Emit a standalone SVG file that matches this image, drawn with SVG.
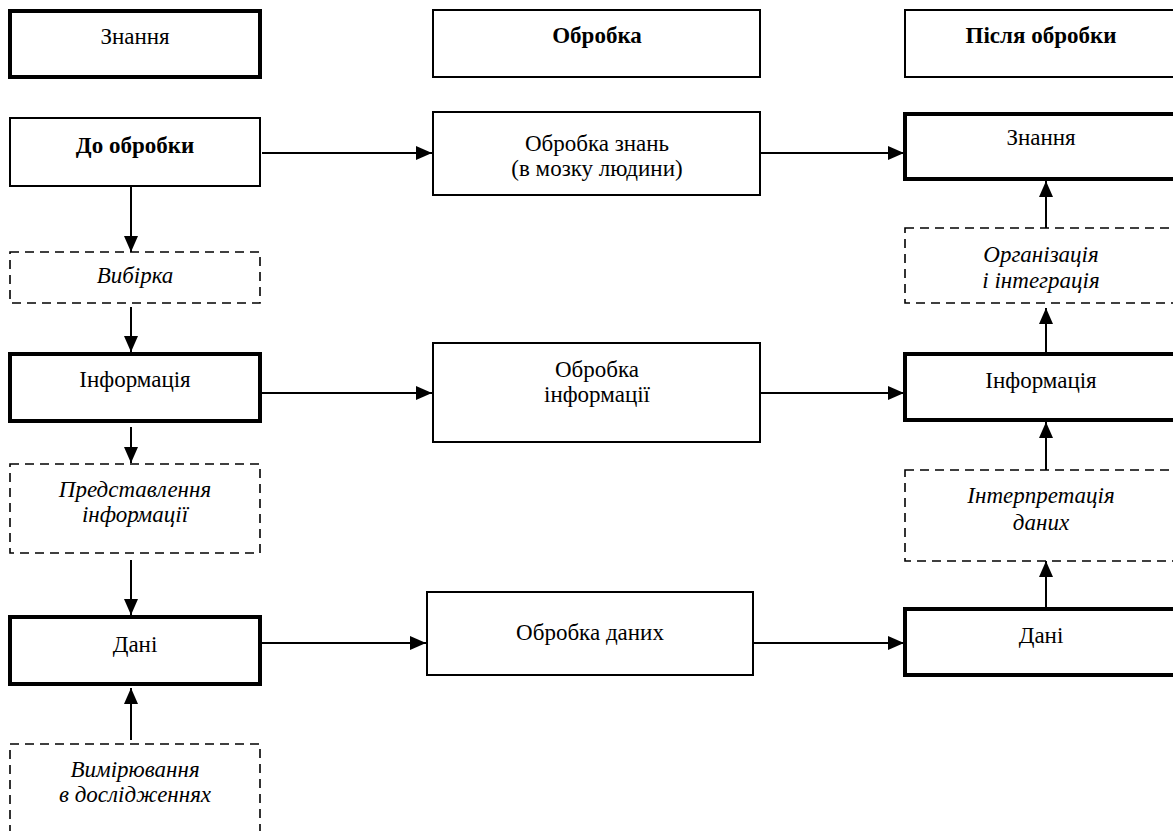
<svg xmlns="http://www.w3.org/2000/svg" width="1173" height="831" viewBox="0 0 1173 831">
<style>
.box{fill:#fff;stroke:#000;stroke-width:2}
.thick{fill:#fff;stroke:#000;stroke-width:4}
.dash{fill:#fff;stroke:#000;stroke-width:1.6;stroke-dasharray:9 6}
text{font-family:"Liberation Serif","Times New Roman",serif;font-size:23px;fill:#000;text-anchor:middle}
.b{font-weight:bold}
.i{font-style:italic}
.c{stroke:#000;stroke-width:2;fill:none;marker-end:url(#ah)}
</style>
<defs>
<marker id="ah" markerUnits="userSpaceOnUse" markerWidth="16" markerHeight="14" refX="16" refY="7" orient="auto">
<path d="M0,0 L16,7 L0,14 z" fill="#000"/>
</marker>
</defs>
<rect width="1173" height="831" fill="#fff"/>
<g id="connectors">
<line class="c" x1="262" y1="153" x2="432" y2="153"/>
<line class="c" x1="760" y1="153" x2="904" y2="153"/>
<line class="c" x1="262" y1="393" x2="432" y2="393"/>
<line class="c" x1="760" y1="393" x2="904" y2="393"/>
<line class="c" x1="262" y1="643" x2="426" y2="643"/>
<line class="c" x1="753" y1="643" x2="904" y2="643"/>
<line class="c" x1="131" y1="187" x2="131" y2="252"/>
<line class="c" x1="131" y1="307" x2="131" y2="352"/>
<line class="c" x1="131" y1="427" x2="131" y2="463"/>
<line class="c" x1="131" y1="560" x2="131" y2="615"/>
<line class="c" x1="131" y1="740" x2="131" y2="688"/>
<line class="c" x1="1046" y1="228" x2="1046" y2="181"/>
<line class="c" x1="1046" y1="352" x2="1046" y2="308"/>
<line class="c" x1="1046" y1="470" x2="1046" y2="422"/>
<line class="c" x1="1046" y1="607" x2="1046" y2="561"/>
</g>
<g id="n-znannya-head"><rect class="thick" x="10" y="11" width="250" height="66"/><text x="135" y="44">Знання</text></g>
<g id="n-obrobka-head"><rect class="box" x="433" y="10" width="327" height="67"/><text class="b" x="597" y="43">Обробка</text></g>
<g id="n-pislya-head"><rect class="box" x="905" y="10" width="280" height="67"/><text class="b" x="1041" y="43">Після обробки</text></g>
<g id="n-do-obrobky"><rect class="box" x="10" y="118" width="250" height="68"/><text class="b" x="135" y="153">До обробки</text></g>
<g id="n-obrobka-znan"><rect class="box" x="433" y="112" width="327" height="83"/><text x="597" y="151">Обробка знань</text><text x="597" y="176">(в мозку людини)</text></g>
<g id="n-znannya-right"><rect class="thick" x="905" y="114" width="280" height="65"/><text x="1041" y="145">Знання</text></g>
<g id="n-vybirka"><rect class="dash" x="10" y="252" width="250" height="51"/><text class="i" x="135" y="283">Вибірка</text></g>
<g id="n-orhanizatsiya"><rect class="dash" x="905" y="228" width="280" height="75"/><text class="i" x="1041" y="262">Організація</text><text class="i" x="1041" y="288">і інтеграція</text></g>
<g id="n-informatsiya-left"><rect class="thick" x="10" y="354" width="250" height="67"/><text x="135" y="387">Інформація</text></g>
<g id="n-obrobka-inform"><rect class="box" x="433" y="343" width="327" height="99"/><text x="597" y="377">Обробка</text><text x="597" y="402">інформації</text></g>
<g id="n-informatsiya-right"><rect class="thick" x="905" y="354" width="280" height="66"/><text x="1041" y="388">Інформація</text></g>
<g id="n-predstavlennya"><rect class="dash" x="10" y="464" width="250" height="89"/><text class="i" x="135" y="497">Представлення</text><text class="i" x="135" y="522">інформації</text></g>
<g id="n-interpretatsiya"><rect class="dash" x="905" y="470" width="280" height="91"/><text class="i" x="1041" y="503">Інтерпретація</text><text class="i" x="1041" y="530">даних</text></g>
<g id="n-dani-left"><rect class="thick" x="10" y="617" width="250" height="67"/><text x="135" y="652">Дані</text></g>
<g id="n-obrobka-danykh"><rect class="box" x="427" y="592" width="326" height="83"/><text x="590" y="640">Обробка даних</text></g>
<g id="n-dani-right"><rect class="thick" x="905" y="609" width="280" height="66"/><text x="1041" y="643">Дані</text></g>
<g id="n-vymiryuvannya"><rect class="dash" x="10" y="744" width="250" height="110"/><text class="i" x="135" y="777">Вимірювання</text><text class="i" x="135" y="802">в дослідженнях</text></g>
</svg>
